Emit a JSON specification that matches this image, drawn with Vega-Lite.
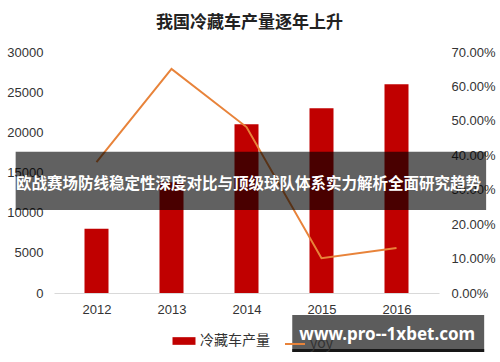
{
  "$schema": "https://vega.github.io/schema/vega-lite/v6.json",
  "width": 385,
  "height": 241,
  "autosize": {"type": "none"},
  "padding": {"left": 54, "top": 52, "right": 61, "bottom": 69},
  "background": "white",
  "config": {
    "view": {"stroke": null},
    "axis": {"labelFont": "Liberation Sans", "labelFontSize": 13, "labelColor": "#333333", "ticks": false, "grid": false, "domain": false, "title": null}
  },
  "title": {"text": "我国冷藏车产量逐年上升", "font": "Noto Sans CJK SC", "fontSize": 17, "fontWeight": "bold", "color": "#222222", "anchor": "middle", "frame": "group", "offset": 14, "dx": 3},
  "data": {"values": [
    {"year": 2012, "output": 8000, "yoy": 0.38},
    {"year": 2013, "output": 13800, "yoy": 0.651},
    {"year": 2014, "output": 21000, "yoy": 0.482},
    {"year": 2015, "output": 23000, "yoy": 0.101},
    {"year": 2016, "output": 26000, "yoy": 0.131}
  ]},
  "layer": [
    {
      "mark": {"type": "bar", "width": 24},
      "encoding": {
        "x": {"field": "year", "type": "quantitative", "scale": {"domain": [2011.5, 2016.5], "nice": false, "zero": false},
              "axis": {"values": [2012, 2013, 2014, 2015, 2016], "format": "d", "domain": true, "domainColor": "#d9d9d9", "labelPadding": 10, "labelFlush": false}},
        "y": {"field": "output", "type": "quantitative", "scale": {"domain": [0, 30000], "nice": false},
              "axis": {"values": [0, 5000, 10000, 15000, 20000, 25000, 30000], "format": "d", "labelPadding": 11}},
        "fill": {"datum": "冷藏车产量", "scale": {"range": ["#C00000"]},
                 "legend": {"orient": "none", "legendX": 122, "legendY": 281, "symbolType": "M-1.5,-0.5H1.5V0.5H-1.5Z", "symbolSize": 235, "symbolStrokeWidth": 0, "labelFont": "Noto Sans CJK SC", "labelFontSize": 14, "labelColor": "#333333", "labelOffset": 8, "title": null, "padding": 0}}
      }
    },
    {
      "mark": {"type": "line", "strokeWidth": 2},
      "encoding": {
        "x": {"field": "year", "type": "quantitative"},
        "y": {"field": "yoy", "type": "quantitative", "scale": {"domain": [0, 0.7], "nice": false},
              "axis": {"orient": "right", "format": ".2%", "values": [0, 0.1, 0.2, 0.3, 0.4, 0.5, 0.6, 0.7], "labelPadding": 12}},
        "stroke": {"datum": "yoy", "scale": {"range": ["#E8833A"]},
                   "legend": {"orient": "none", "legendX": 230, "legendY": 281, "symbolType": "stroke", "symbolSize": 400, "symbolStrokeWidth": 2, "labelFont": "Noto Sans CJK SC", "labelFontSize": 14, "labelColor": "#333333", "labelOffset": 4, "title": null, "padding": 0}}
      }
    },
    {
      "data": {"values": [{"label": "欧战赛场防线稳定性深度对比与顶级球队体系实力解析全面研究趋势"}]},
      "layer": [
        {
          "mark": {"type": "rect", "color": "#000000", "opacity": 0.62},
          "encoding": {
            "x": {"datum": 2010.922, "type": "quantitative"},
            "x2": {"datum": 2017.195},
            "y": {"datum": 17589, "type": "quantitative", "scale": {"domain": [0, 30000], "nice": false}, "axis": null},
            "y2": {"datum": 10332}
          }
        },
        {
          "mark": {"type": "text", "font": "Noto Sans CJK SC", "fontWeight": "bold", "fontSize": 15.5, "color": "#ffffff", "align": "center", "baseline": "middle"},
          "encoding": {
            "text": {"field": "label"},
            "x": {"datum": 2014.026, "type": "quantitative"},
            "y": {"datum": 13568, "type": "quantitative", "scale": {"domain": [0, 30000], "nice": false}, "axis": null}
          }
        }
      ]
    },
    {
      "data": {"values": [{"label": "www.pro--1xbet.com"}]},
      "layer": [
        {
          "mark": {"type": "rect", "color": "#000000", "opacity": 0.64},
          "encoding": {
            "x": {"datum": 2014.61, "type": "quantitative"},
            "x2": {"datum": 2017.169},
            "y": {"datum": -2739, "type": "quantitative", "scale": {"domain": [0, 30000], "nice": false}, "axis": null},
            "y2": {"datum": -7344}
          }
        },
        {
          "mark": {"type": "rect", "color": "#000000", "opacity": 0.75},
          "encoding": {
            "x": {"datum": 2014.61, "type": "quantitative"},
            "x2": {"datum": 2017.169},
            "y": {"datum": -6971, "type": "quantitative", "scale": {"domain": [0, 30000], "nice": false}, "axis": null},
            "y2": {"datum": -7344}
          }
        },
        {
          "mark": {"type": "text", "font": "Noto Sans", "fontWeight": "bold", "fontSize": 17, "color": "#ffffff", "align": "center", "baseline": "middle"},
          "encoding": {
            "text": {"field": "label"},
            "x": {"datum": 2015.877, "type": "quantitative"},
            "y": {"datum": -5228, "type": "quantitative", "scale": {"domain": [0, 30000], "nice": false}, "axis": null}
          }
        }
      ]
    }
  ],
  "resolve": {"scale": {"y": "independent"}}
}
